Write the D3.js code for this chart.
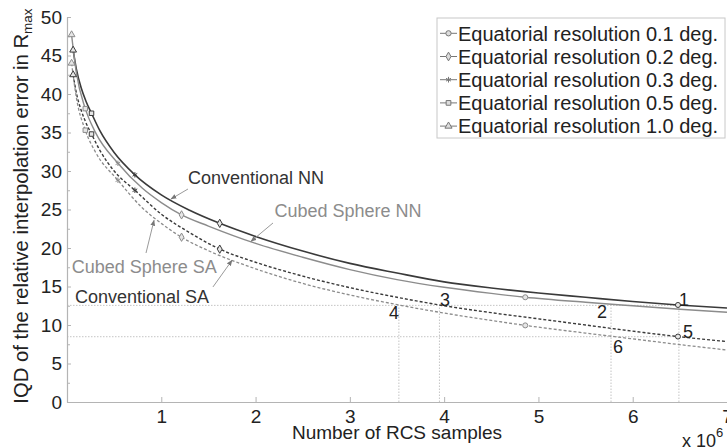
<!DOCTYPE html>
<html>
<head>
<meta charset="utf-8">
<script src="https://cdn.jsdelivr.net/npm/d3@7"></script>
<style>
body { margin: 0; background: #fff; }
svg { display: block; font-family: "Liberation Sans", Arial, sans-serif; }
</style>
</head>
<body>
<svg id="chart" width="727" height="448"></svg>
<script>
// fitted curves (N in millions of samples, IQD value)
var convCurveN = [0.065, 0.1, 0.15, 0.2, 0.26, 0.35, 0.5, 0.72, 1.0, 1.3, 1.62, 2.0, 2.5, 3.0, 3.5, 4.0, 4.5, 5.0, 5.5, 6.0, 6.48, 7.0];
var convNN = [45.7, 43.2, 40.8, 39.1, 37.5, 35.2, 32.4, 29.5, 26.9, 24.9, 23.2, 21.5, 19.6, 18.0, 16.75, 15.6, 14.8, 14.15, 13.6, 13.05, 12.6, 12.2];
var convSA = [42.5, 40.1, 37.9, 36.3, 34.8, 32.65, 30.0, 27.5, 24.4, 22.0, 19.85, 18.15, 16.35, 14.85, 13.6, 12.5, 11.6, 10.8, 10.0, 9.2, 8.5, 7.85];

var cubedCurveN = [0.0486, 0.1, 0.194, 0.3, 0.54, 0.8, 1.0, 1.215, 1.5, 2.0, 2.5, 3.0, 3.5, 4.0, 4.5, 4.86, 5.5, 6.0, 6.5, 7.0];
var cubedNN = [47.7, 42.7, 38.1, 35.05, 31.0, 27.75, 25.9, 24.3, 22.85, 20.6, 18.8, 17.2, 15.9, 14.9, 14.1, 13.6, 12.95, 12.5, 12.05, 11.65];
var cubedSA = [44.0, 39.5, 35.3, 32.5, 28.8, 25.2, 23.2, 21.4, 19.65, 17.3, 15.4, 13.9, 12.65, 11.55, 10.6, 9.95, 8.95, 8.2, 7.45, 6.75];

// one marker per equatorial resolution
var resolutions = ["1.0", "0.5", "0.3", "0.2", "0.1"];
var convMarkN = [0.065, 0.26, 0.72, 1.62, 6.48];
var cubedMarkN = [0.0486, 0.194, 0.54, 1.215, 4.86];
var convNNMark = [45.7, 37.5, 29.5, 23.2, 12.6];
var convSAMark = [42.5, 34.8, 27.5, 19.85, 8.5];
var cubedNNMark = [47.7, 38.1, 31.0, 24.3, 13.6];
var cubedSAMark = [44.0, 35.3, 28.8, 21.4, 9.95];

var yTicks = [0, 5, 10, 15, 20, 25, 30, 35, 40, 45, 50];
var yMinor = [2.5, 7.5, 12.5, 17.5, 22.5, 27.5, 32.5, 37.5, 42.5, 47.5];
var xTicks = [1, 2, 3, 4, 5, 6, 7];

// guide lines and their numbered points
var refLevels = [12.55, 8.48];
var refSamples = [3.52, 3.95, 5.77, 6.49];
var refLabels = ["1", "2", "3", "4", "5", "6"];
var refLabelN = [6.544, 5.674, 4.009, 3.468, 6.586, 5.844];
var refLabelY = [13.25, 11.69, 13.25, 11.56, 9.09, 7.27];

var svg = d3.select("#chart");
var x = d3.scaleLinear().domain([0, 7]).range([67, 727]);
var y = d3.scaleLinear().domain([0, 50]).range([402, 17]);

var dark = "#3a3a3a", grey = "#8c8c8c", axisCol = "#b4b4b4";

svg.append("defs").append("marker")
    .attr("id", "arrow")
    .attr("viewBox", "0 0 10 10")
    .attr("refX", 9).attr("refY", 5)
    .attr("markerWidth", 6).attr("markerHeight", 6)
    .attr("orient", "auto")
  .append("path")
    .attr("d", "M0,1 L10,5 L0,9 Z")
    .attr("fill", "#777");

// guide lines
var guides = svg.append("g")
    .attr("stroke", "#c4c4c4")
    .attr("stroke-width", 1)
    .attr("stroke-dasharray", "1.5,1.5");
refLevels.forEach(function(v) {
    guides.append("line")
        .attr("x1", x(0)).attr("x2", x(refSamples[3]))
        .attr("y1", y(v)).attr("y2", y(v));
});
refSamples.forEach(function(n) {
    guides.append("line")
        .attr("x1", x(n)).attr("x2", x(n))
        .attr("y1", y(0)).attr("y2", y(refLevels[0]));
});

// axes
svg.append("g")
    .attr("transform", "translate(" + x(0) + ",0)")
    .call(d3.axisLeft(y).tickValues(yTicks).tickSize(-4).tickSizeOuter(0).tickPadding(5));
svg.append("g")
    .attr("transform", "translate(" + x(0) + ",0)")
    .call(d3.axisLeft(y).tickValues(yMinor).tickSize(-3).tickFormat(""))
    .select(".domain").remove();
svg.append("g")
    .attr("transform", "translate(0," + y(0) + ")")
    .call(d3.axisBottom(x).tickValues(xTicks).tickFormat(d3.format("d"))
        .tickSize(-5).tickSizeOuter(0).tickPadding(8));

svg.selectAll(".domain").attr("stroke", axisCol).attr("stroke-width", 1.2);
svg.selectAll(".tick line").attr("stroke", axisCol);
svg.selectAll(".tick text").attr("fill", "#222").attr("font-size", 19)
    .attr("font-family", "Liberation Sans, Arial, sans-serif");

// curves
var line = d3.line()
    .x(function(d) { return x(d[0]); })
    .y(function(d) { return y(d[1]); })
    .curve(d3.curveMonotoneX);

var series = [
    { n: convCurveN, v: convNN, mn: convMarkN, mv: convNNMark, col: dark, w: 1.6, dash: null },
    { n: cubedCurveN, v: cubedNN, mn: cubedMarkN, mv: cubedNNMark, col: grey, w: 1.4, dash: null },
    { n: convCurveN, v: convSA, mn: convMarkN, mv: convSAMark, col: dark, w: 1.4, dash: "3,2" },
    { n: cubedCurveN, v: cubedSA, mn: cubedMarkN, mv: cubedSAMark, col: grey, w: 1.3, dash: "3,2" }
];

var symbols = [d3.symbolTriangle, d3.symbolSquare, d3.symbolAsterisk, d3.symbolDiamond, d3.symbolCircle];

series.forEach(function(s) {
    svg.append("path")
        .datum(d3.zip(s.n, s.v))
        .attr("fill", "none")
        .attr("stroke", s.col)
        .attr("stroke-width", s.w)
        .attr("stroke-dasharray", s.dash)
        .attr("d", line);
});
series.forEach(function(s) {
    svg.append("g").selectAll("path")
        .data(d3.zip(s.mn, s.mv))
        .enter().append("path")
        .attr("transform", function(d) { return "translate(" + x(d[0]) + "," + y(d[1]) + ")"; })
        .attr("d", function(d, i) { return d3.symbol().type(symbols[i]).size(20)(); })
        .attr("fill", "#e6e6e6")
        .attr("stroke", s.col)
        .attr("stroke-width", 1);
});

// numbered points
svg.append("g").selectAll("text")
    .data(refLabels)
    .enter().append("text")
    .attr("x", function(d, i) { return x(refLabelN[i]); })
    .attr("y", function(d, i) { return y(refLabelY[i]); })
    .attr("dy", "0.36em")
    .attr("text-anchor", "middle")
    .attr("font-size", 18)
    .attr("fill", "#222")
    .text(function(d) { return d; });

// curve annotations: text start and arrow, in data units
var notes = [
    { t: "Conventional NN", col: "#333", tx: 1.283, ty: 28.3, a: [1.283, 27.66, 1.103, 26.36] },
    { t: "Cubed Sphere NN", col: grey, tx: 2.201, ty: 24.0, a: [2.185, 23.25, 1.951, 20.85] },
    { t: "Cubed Sphere SA", col: grey, tx: 0.05, ty: 16.8, a: [0.838, 19.35, 0.923, 23.6] },
    { t: "Conventional SA", col: "#333", tx: 0.085, ty: 12.9, a: [1.548, 14.94, 1.75, 18.4] }
];
notes.forEach(function(d) {
    svg.append("line")
        .attr("x1", x(d.a[0])).attr("y1", y(d.a[1]))
        .attr("x2", x(d.a[2])).attr("y2", y(d.a[3]))
        .attr("stroke", "#9a9a9a")
        .attr("stroke-width", 1)
        .attr("marker-end", "url(#arrow)");
    svg.append("text")
        .attr("x", x(d.tx)).attr("y", y(d.ty))
        .attr("font-size", 18)
        .attr("fill", d.col)
        .text(d.t);
});

// axis titles
svg.append("text")
    .attr("x", (x(0) + x(7)) / 2).attr("y", 439)
    .attr("text-anchor", "middle")
    .attr("font-size", 19)
    .attr("fill", "#222")
    .text("Number of RCS samples");

var mult = svg.append("text")
    .attr("x", 682).attr("y", 447)
    .attr("font-size", 18)
    .attr("fill", "#222");
mult.append("tspan").text("x 10");
mult.append("tspan").attr("font-size", 13).attr("dy", -10).text("6");

var yl = svg.append("text")
    .attr("transform", "translate(28,206) rotate(-90)")
    .attr("text-anchor", "middle")
    .attr("font-size", 20.3)
    .attr("fill", "#222");
yl.append("tspan").text("IQD of the relative interpolation error in R");
yl.append("tspan").attr("font-size", 13.5).attr("dy", 4).text("max");

// legend
var legend = svg.append("g");
legend.append("rect")
    .attr("x", 437).attr("y", 18)
    .attr("width", 288).attr("height", 120)
    .attr("fill", "#fff")
    .attr("stroke", "#c8c8c8");

var order = [4, 3, 2, 1, 0];
var rows = legend.selectAll("g.row")
    .data(order)
    .enter().append("g")
    .attr("class", "row")
    .attr("transform", function(d, i) { return "translate(0," + (33.3 + i * 23.2) + ")"; });
rows.append("line")
    .attr("x1", 440).attr("x2", 457)
    .attr("stroke", "#777").attr("stroke-width", 1);
rows.append("path")
    .attr("transform", "translate(448.5,0)")
    .attr("d", function(d) { return d3.symbol().type(symbols[d]).size(22)(); })
    .attr("fill", "#ddd")
    .attr("stroke", "#777");
rows.append("text")
    .attr("x", 458).attr("dy", "0.36em")
    .attr("font-size", 20)
    .attr("fill", "#222")
    .text(function(d) { return "Equatorial resolution " + resolutions[d] + " deg."; });
</script>
</body>
</html>
